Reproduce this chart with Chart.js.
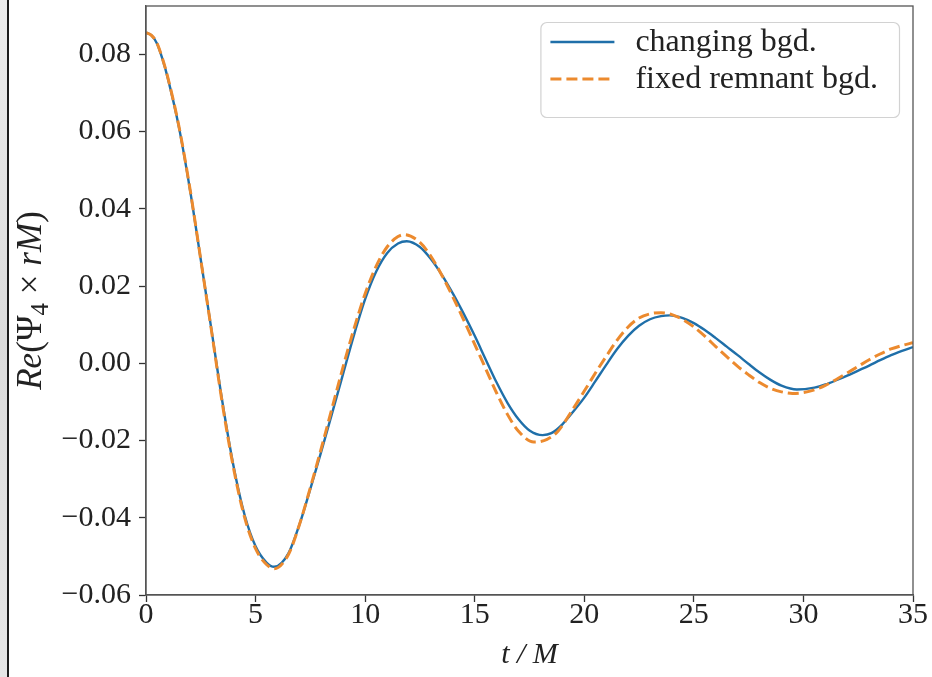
<!DOCTYPE html>
<html>
<head>
<meta charset="utf-8">
<script src="https://cdn.jsdelivr.net/npm/chart.js@4.4.1/dist/chart.umd.min.js"></script>
<style>
  html, body { margin: 0; padding: 0; background: #ffffff; overflow: hidden; }
  #wrap { position: relative; width: 932px; height: 677px; }
</style>
</head>
<body>
<div id="wrap"><canvas id="c" width="932" height="677"></canvas></div>
<script>
// Waveform samples: time t/M and Re(Psi4 * rM)
const tChanging = [0,0.25,0.5,0.75,1,1.5,2,2.5,3,3.5,4,4.5,5,5.5,5.85,6.5,7,7.5,8,8.5,9,9.5,10,10.5,11,11.5,11.9,12.5,13,13.5,14,14.5,15,15.5,16,16.5,17,17.5,18.1,18.5,19,19.5,20,20.5,21,21.5,22,22.5,23,23.5,23.9,24.5,25,25.5,26,26.5,27,27.5,28,28.5,29,29.7,30.5,31,31.5,32,32.5,33,33.5,34,34.5,35];
const psiChanging = [0.0856,0.0849,0.0828,0.0788,0.0737,0.0612,0.0452,0.0268,0.0082,-0.0105,-0.0268,-0.0393,-0.0474,-0.0516,-0.0527,-0.0492,-0.0418,-0.0325,-0.0228,-0.0128,-0.0026,0.0075,0.0166,0.0237,0.0285,0.0310,0.0316,0.0301,0.0270,0.0229,0.0181,0.0128,0.0071,0.0010,-0.0050,-0.0103,-0.0145,-0.0174,-0.0186,-0.0181,-0.0158,-0.0125,-0.0089,-0.0047,-0.0004,0.0037,0.0071,0.0097,0.0114,0.0122,0.0124,0.0117,0.0104,0.0086,0.0065,0.0043,0.0021,-0.0002,-0.0024,-0.0043,-0.0058,-0.0068,-0.0063,-0.0055,-0.0044,-0.0032,-0.0019,-0.0006,0.0008,0.0021,0.0032,0.0042];

const tFixed = [0,0.25,0.5,0.75,1,1.5,2,2.5,3,3.5,4,4.5,5,5.5,5.85,6.5,7,7.5,8,8.5,9,9.5,10,10.5,11,11.5,11.8,12.5,13,13.5,14,14.5,15,15.5,16,16.5,17,17.7,18.3,18.8,19.5,20,20.5,21,21.5,22,22.5,23,23.5,24,24.5,25,25.5,26,26.5,27,27.5,28,28.5,29,29.5,30,30.5,31,31.5,32,32.5,33,33.5,34,34.5,35];
const psiFixed = [0.0856,0.0849,0.0829,0.0789,0.0739,0.0614,0.0454,0.0268,0.0080,-0.0110,-0.0273,-0.0399,-0.0480,-0.0521,-0.0532,-0.0495,-0.0418,-0.0322,-0.0220,-0.0114,-0.0008,0.0091,0.0180,0.0251,0.0301,0.0328,0.0333,0.0313,0.0277,0.0228,0.0172,0.0112,0.0049,-0.0014,-0.0077,-0.0133,-0.0176,-0.0204,-0.0197,-0.0176,-0.0117,-0.0072,-0.0026,0.0018,0.0060,0.0094,0.0117,0.0128,0.0131,0.0126,0.0113,0.0094,0.0070,0.0043,0.0017,-0.0008,-0.0030,-0.0050,-0.0065,-0.0074,-0.0078,-0.0076,-0.0069,-0.0057,-0.0042,-0.0025,-0.0008,0.0009,0.0024,0.0037,0.0046,0.0053];

const seriesLabels = ['changing bgd.', 'fixed remnant bgd.'];
const xTicks = [0, 5, 10, 15, 20, 25, 30, 35];
const xTickLabels = ['0', '5', '10', '15', '20', '25', '30', '35'];
const yTicks = [-0.06, -0.04, -0.02, 0.00, 0.02, 0.04, 0.06, 0.08];
const yTickLabels = ['\u22120.06', '\u22120.04', '\u22120.02', '0.00', '0.02', '0.04', '0.06', '0.08'];
const xTitle = 't / M';
// y-axis title pieces: [text, style]  (style: i = italic, u = upright, s = subscript)
const yTitleParts = [['Re', 'i'], ['(', 'u'], ['\u03A8', 'u'], ['4', 's'], [' \u00D7 ', 'u'], ['rM', 'i'], [')', 'u']];

const SERIF = '"Liberation Serif", "DejaVu Serif", serif';
const BLUE = '#1f6fa9';
const ORANGE = '#ec8a2e';

const toPoints = (xs, ys) => xs.map((x, i) => ({ x: x, y: ys[i] }));

// Page backdrop: light strip with a dark rule on the far left
const backdrop = {
  id: 'backdrop',
  beforeDraw(chart) {
    const ctx = chart.ctx;
    ctx.save();
    ctx.fillStyle = '#ffffff';
    ctx.fillRect(0, 0, chart.width, chart.height);
    const g = ctx.createLinearGradient(0, 0, 0, chart.height);
    g.addColorStop(0, '#ececec');
    g.addColorStop(0.5, '#dcdcdc');
    g.addColorStop(1, '#e6e6e6');
    ctx.fillStyle = g;
    ctx.fillRect(0, 0, 7, chart.height);
    ctx.fillStyle = '#1c1c1c';
    ctx.fillRect(7, 0, 2, chart.height);
    ctx.restore();
  }
};

// Axes frame, y-axis title and boxed legend
const decorations = {
  id: 'decorations',
  afterDraw(chart) {
    const ctx = chart.ctx;
    const a = chart.chartArea;
    ctx.save();

    // frame around the plotting area
    ctx.strokeStyle = '#555555';
    ctx.lineWidth = 1.3;
    ctx.strokeRect(a.left, a.top, a.right - a.left, a.bottom - a.top);

    // y-axis title, rotated, with a subscript
    const size = 35;
    const fontFor = (st) => st === 'i' ? `italic ${size}px ${SERIF}` :
                           st === 's' ? `${Math.round(size * 0.7)}px ${SERIF}` : `${size}px ${SERIF}`;
    let total = 0;
    const widths = yTitleParts.map(([txt, st]) => { ctx.font = fontFor(st); const w = ctx.measureText(txt).width; total += w; return w; });
    ctx.translate(30, (a.top + a.bottom) / 2);
    ctx.rotate(-Math.PI / 2);
    ctx.fillStyle = '#222222';
    ctx.textBaseline = 'alphabetic';
    ctx.textAlign = 'left';
    let cx = -total / 2;
    yTitleParts.forEach(([txt, st], i) => {
      ctx.font = fontFor(st);
      ctx.fillText(txt, cx, st === 's' ? 11 + 7 : 11);
      cx += widths[i];
    });
    ctx.setTransform(1, 0, 0, 1, 0, 0);

    // legend box in the upper right corner
    const ds = chart.data.datasets;
    const fontSize = 32;
    ctx.font = `${fontSize}px ${SERIF}`;
    const maxW = Math.max(...seriesLabels.map(s => ctx.measureText(s).width));
    const boxRight = a.right - 14;
    const boxLeft = boxRight - (10 + 64 + 21 + maxW + 21);
    const boxTop = a.top + 16;
    const boxH = 95;
    ctx.beginPath();
    ctx.roundRect(boxLeft + 0.5, boxTop + 0.5, boxRight - boxLeft, boxH, 6);
    ctx.fillStyle = 'rgba(255,255,255,0.85)';
    ctx.fill();
    ctx.strokeStyle = '#d2d2d2';
    ctx.lineWidth = 1.2;
    ctx.stroke();
    const rows = [boxTop + 20, boxTop + 57];
    ds.forEach((d, i) => {
      const y = rows[i];
      ctx.beginPath();
      ctx.strokeStyle = d.borderColor;
      ctx.lineWidth = d.borderWidth;
      ctx.setLineDash(d.borderDash || []);
      ctx.moveTo(boxLeft + 10, y);
      ctx.lineTo(boxLeft + 74, y);
      ctx.stroke();
      ctx.setLineDash([]);
      ctx.fillStyle = '#222222';
      ctx.font = `${fontSize}px ${SERIF}`;
      ctx.textBaseline = 'middle';
      ctx.textAlign = 'left';
      ctx.fillText(d.label, boxLeft + 95, y + 1);
    });
    ctx.restore();
  }
};

new Chart(document.getElementById('c'), {
  type: 'line',
  data: {
    datasets: [
      {
        label: seriesLabels[0],
        data: toPoints(tChanging, psiChanging),
        borderColor: BLUE,
        borderWidth: 2.4,
        pointRadius: 0,
        fill: false,
        cubicInterpolationMode: 'monotone',
        order: 2
      },
      {
        label: seriesLabels[1],
        data: toPoints(tFixed, psiFixed),
        borderColor: ORANGE,
        borderWidth: 3,
        borderDash: [11, 5],
        pointRadius: 0,
        fill: false,
        cubicInterpolationMode: 'monotone',
        order: 1
      }
    ]
  },
  options: {
    responsive: false,
    devicePixelRatio: 1,
    animation: false,
    layout: { padding: { left: 0, top: 6, right: 19, bottom: 0 } },
    plugins: {
      legend: { display: false },
      tooltip: { enabled: false }
    },
    scales: {
      x: {
        type: 'linear',
        min: 0,
        max: 35,
        afterBuildTicks: (s) => { s.ticks = xTicks.map(v => ({ value: v })); },
        afterFit: (s) => { s.height = 82; s.paddingLeft = 0; s.paddingRight = 0; },
        ticks: {
          autoSkip: false,
          maxRotation: 0,
          padding: -5,
          color: '#222222',
          font: { family: SERIF, size: 30 },
          callback: (v) => xTickLabels[xTicks.indexOf(v)]
        },
        grid: { drawOnChartArea: false, drawTicks: true, tickLength: 7, tickColor: '#333333', tickWidth: 1.3 },
        border: { display: true, color: '#555555', width: 1.3 },
        title: {
          display: true,
          text: xTitle,
          color: '#222222',
          font: { family: SERIF, size: 30, style: 'italic' },
          padding: { top: 0, bottom: 4 }
        }
      },
      y: {
        type: 'linear',
        min: -0.06,
        max: 0.0925,
        afterBuildTicks: (s) => { s.ticks = yTicks.map(v => ({ value: v })); },
        afterFit: (s) => { s.width = 146; s.paddingTop = 0; s.paddingBottom = 0; },
        ticks: {
          autoSkip: false,
          padding: 8,
          color: '#222222',
          font: { family: SERIF, size: 30 },
          callback: (v) => yTickLabels[yTicks.findIndex(t => Math.abs(t - v) < 1e-9)]
        },
        grid: { drawOnChartArea: false, drawTicks: true, tickLength: 7, tickColor: '#333333', tickWidth: 1.3 },
        border: { display: true, color: '#555555', width: 1.3 }
      }
    }
  },
  plugins: [backdrop, decorations]
});
</script>
</body>
</html>
